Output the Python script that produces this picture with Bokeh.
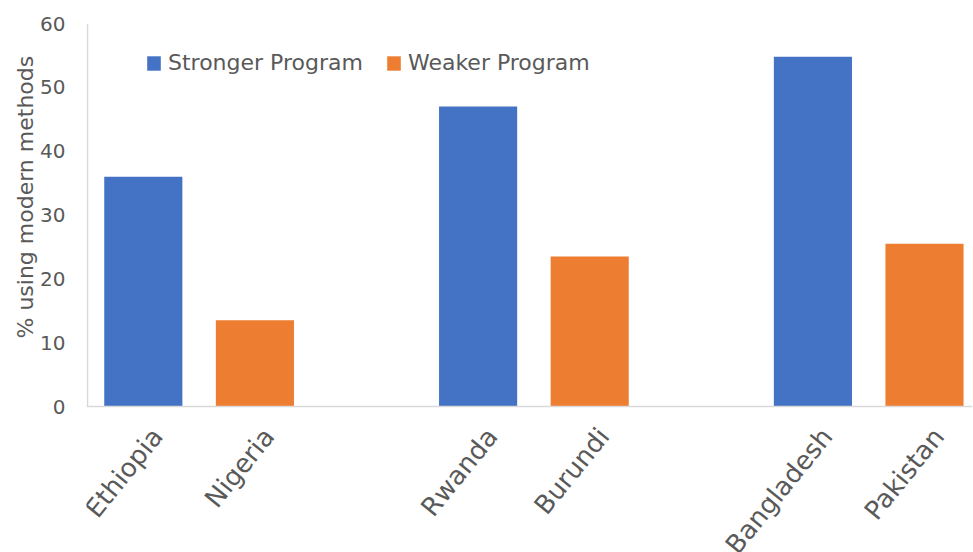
from bokeh.plotting import figure
from bokeh.models import Range1d, FixedTicker, Legend, LegendItem, ColumnDataSource, Title, Span
from bokeh.core.properties import value
from bokeh.embed import file_html
from bokeh.resources import INLINE
import math

# Data
stronger_countries = ["Ethiopia", "Rwanda", "Bangladesh"]
stronger_values = [36, 47, 54.8]
weaker_countries = ["Nigeria", "Burundi", "Pakistan"]
weaker_values = [13.5, 23.5, 25.5]
y_ticks = [0, 10, 20, 30, 40, 50, 60]
y_title = "% using modern methods"

# Layout: each pair of countries occupies two slots, followed by one empty slot
strong_x = [3 * i for i in range(len(stronger_countries))]
weak_x = [3 * i + 1 for i in range(len(weaker_countries))]

BLUE = "#4472C4"
ORANGE = "#ED7D31"
TXT = "#595959"
AXIS = "#D9D9D9"
FONT = "DejaVu Sans"

X0 = -0.509   # frame starts 1px left of the value axis
X1 = 7.43
Y_BOTTOM = -22.87  # frame extended below zero so the rotated category labels can be drawn
Y_TOP = 60

p = figure(width=973, height=552, output_backend="svg", toolbar_location=None,
           x_range=Range1d(X0, X1), y_range=Range1d(Y_BOTTOM, Y_TOP),
           min_border_left=86, min_border_top=23, min_border_bottom=0, min_border_right=1)
p.outline_line_color = None
p.xgrid.visible = False
p.ygrid.visible = False
p.xaxis.visible = False

src_s = ColumnDataSource(dict(x=strong_x, top=stronger_values, name=stronger_countries,
                              y0=[0] * len(strong_x)))
src_w = ColumnDataSource(dict(x=weak_x, top=weaker_values, name=weaker_countries,
                              y0=[0] * len(weak_x)))
r1 = p.vbar(x="x", top="top", width=0.7, source=src_s, color=BLUE, line_color=None)
r2 = p.vbar(x="x", top="top", width=0.7, source=src_w, color=ORANGE, line_color=None)

# axis lines
p.add_layout(Span(location=y_ticks[0], dimension="width", line_color=AXIS, line_width=1.5))
p.segment(x0=[-0.5], y0=[y_ticks[0]], x1=[-0.5], y1=[y_ticks[-1]], line_color=AXIS, line_width=1.5)

# rotated category labels
for src in (src_s, src_w):
    p.text(x="x", y="y0", text="name", source=src, angle=math.radians(51),
           x_offset=14, y_offset=25, text_align="right", text_baseline="alphabetic",
           text_font=value(FONT), text_font_size="26px", text_color=TXT)

p.yaxis.ticker = FixedTicker(ticks=y_ticks)
p.yaxis.major_label_text_font = FONT
p.yaxis.major_label_text_font_size = "20px"
p.yaxis.major_label_text_color = TXT
p.yaxis.major_label_standoff = 15
p.yaxis.axis_line_color = None
p.yaxis.major_tick_line_color = None
p.yaxis.minor_tick_line_color = None

p.add_layout(Title(text=y_title, align="left", offset=214, text_font=FONT,
                   text_font_size="22px", text_font_style="normal", text_color=TXT,
                   standoff=0), "left")

legend = Legend(items=[LegendItem(label="Stronger Program", renderers=[r1]),
                       LegendItem(label="Weaker Program", renderers=[r2])],
                orientation="horizontal", location=(59, 477),
                glyph_width=17, glyph_height=18, label_standoff=6, spacing=22,
                padding=0, margin=0, border_line_color=None, background_fill_alpha=0,
                label_text_font=FONT, label_text_font_size="22px", label_text_color=TXT)
p.add_layout(legend, "center")

open("out.html", "w").write(file_html(p, INLINE))
